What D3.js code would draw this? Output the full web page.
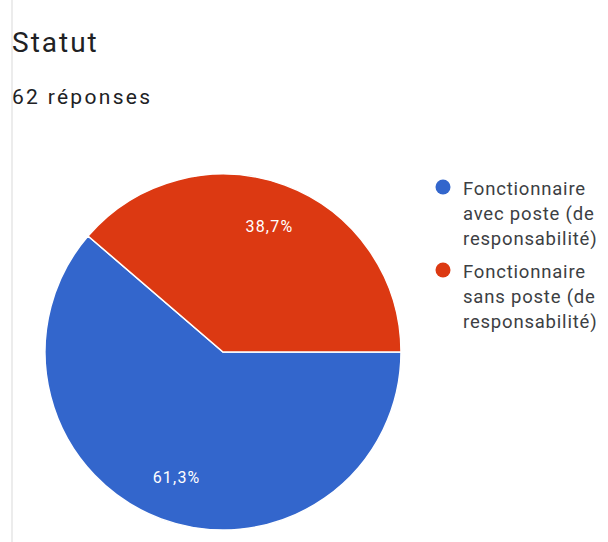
<!DOCTYPE html>
<html>
<head>
<meta charset="utf-8">
<script src="https://cdn.jsdelivr.net/npm/d3@7"></script>
<style>
  html, body { margin: 0; padding: 0; background: #fff; }
  svg { display: block; }
</style>
</head>
<body>
<svg id="chart" width="608" height="542"></svg>
<script>
// Statut des répondants
const categories = [
  "Fonctionnaire avec poste (de responsabilité)",
  "Fonctionnaire sans poste (de responsabilité)"
];
const legendLines = [
  ["Fonctionnaire", "avec poste (de", "responsabilité)"],
  ["Fonctionnaire", "sans poste (de", "responsabilité)"]
];
const values = [61.3, 38.7];
const colors = ["#3366cc", "#dc3912"];
const title = "Statut";
const subtitle = "62 réponses";

const svg = d3.select("#chart");
const font = "Roboto, 'Noto Sans', Arial, sans-serif";

// left card border
svg.append("rect")
  .attr("x", 11).attr("y", 0).attr("width", 2).attr("height", 542)
  .attr("fill", "#ececec");

svg.append("text")
  .attr("x", 12).attr("y", 52)
  .attr("font-family", font).attr("font-size", 28)
  .attr("letter-spacing", 2)
  .attr("fill", "#202124")
  .text(title);

svg.append("text")
  .attr("x", 12).attr("y", 104)
  .attr("font-family", font).attr("font-size", 21)
  .attr("letter-spacing", 2.3)
  .attr("fill", "#202124")
  .text(subtitle);

const cx = 223, cy = 352, R = 178;
const data = categories.map((c, i) => ({ cat: c, value: values[i], color: colors[i] }));

const pie = d3.pie()
  .value(d => d.value)
  .sort(null)
  .startAngle(Math.PI / 2)
  .endAngle(Math.PI / 2 + 2 * Math.PI);

const arc = d3.arc().innerRadius(0).outerRadius(R);
const labelArc = d3.arc().innerRadius(R * 0.75).outerRadius(R * 0.75);

const g = svg.append("g").attr("transform", `translate(${cx},${cy})`);
const arcs = pie(data);

g.selectAll("path.slice")
  .data(arcs)
  .join("path")
  .attr("class", "slice")
  .attr("d", arc)
  .attr("fill", d => d.data.color)
  .attr("stroke", "#fff")
  .attr("stroke-width", 1.5);

g.selectAll("text.pct")
  .data(arcs)
  .join("text")
  .attr("class", "pct")
  .attr("transform", d => `translate(${labelArc.centroid(d)})`)
  .attr("text-anchor", "middle")
  .attr("dy", "0.35em")
  .attr("font-family", font)
  .attr("font-size", 16)
  .attr("letter-spacing", 1.2)
  .attr("fill", "#fff")
  .text(d => d.data.value.toFixed(1).replace(".", ",") + "%");

// legend
const legend = svg.append("g").attr("transform", "translate(443,187)");
const item = legend.selectAll("g.item")
  .data(data)
  .join("g")
  .attr("class", "item")
  .attr("transform", (d, i) => `translate(0,${i * 83})`);

item.append("circle")
  .attr("r", 7.5)
  .attr("fill", d => d.color);

item.append("text")
  .attr("font-family", font)
  .attr("font-size", 18.5)
  .attr("letter-spacing", 0.8)
  .attr("fill", "#3c4043")
  .selectAll("tspan")
  .data((d, i) => legendLines[i])
  .join("tspan")
  .attr("x", 20)
  .attr("y", (d, j) => 8 + j * 25)
  .text(d => d);
</script>
</body>
</html>
